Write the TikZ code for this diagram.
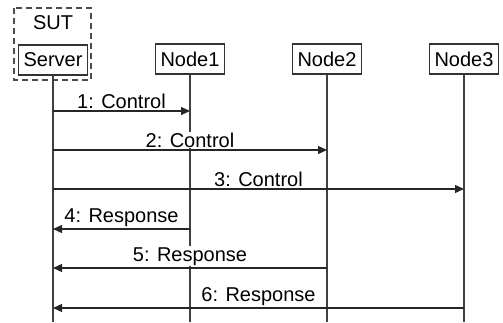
\documentclass[tikz,border=0pt]{standalone}
\usepackage{fontspec}
\setmainfont{Liberation Sans}
\usetikzlibrary{arrows.meta,positioning,calc}

\begin{document}
\begin{tikzpicture}[x=1pt, y=-1pt,
		every node/.style={font=\fontsize{20}{24}\selectfont},
		lifeBox/.style={
				draw=black!80, fill=white, line width=1.3pt,
				minimum width=69pt, minimum height=30pt, inner sep=1pt
			},
		lifeLine/.style={draw=black!75, line width=1.3pt},
		msgArrow/.style={draw=black!85, line width=1.3pt, -{Triangle[length=9pt,width=8pt]}},
		msgLabel/.style={fill=white, inner sep=1pt, anchor=south, yshift=1pt}
	]
	\useasboundingbox (0,0) rectangle (503,322);

	% system under test
	\draw[black!70, line width=1.3pt, dash pattern=on 6pt off 4pt] (14,8) rectangle (91,80);
	\node (sut) at (53,23) {SUT};

	% participants
	\node[lifeBox] (server) at (53,60) {Server};
	\node[lifeBox] (node1) at (190,59) {Node1};
	\node[lifeBox] (node2) at (327,59) {Node2};
	\node[lifeBox] (node3) at (464,59) {Node3};

	% lifelines
	\coordinate (serverEnd) at (server |- 0,322);
	\coordinate (node1End) at (node1 |- 0,322);
	\coordinate (node2End) at (node2 |- 0,322);
	\coordinate (node3End) at (node3 |- 0,322);
	\draw[lifeLine] (server.south) -- (serverEnd);
	\draw[lifeLine] (node1.south) -- (node1End);
	\draw[lifeLine] (node2.south) -- (node2End);
	\draw[lifeLine] (node3.south) -- (node3End);

	% messages
	\draw[msgArrow] (server |- 0,111) -- node[msgLabel] {1: Control} (node1 |- 0,111);
	\draw[msgArrow] (server |- 0,150) -- node[msgLabel] {2: Control} (node2 |- 0,150);
	\draw[msgArrow] (server |- 0,189) -- node[msgLabel] {3: Control} (node3 |- 0,189);
	\draw[msgArrow] (node1 |- 0,229) -- node[msgLabel] {4: Response} (server |- 0,229);
	\draw[msgArrow] (node2 |- 0,268) -- node[msgLabel] {5: Response} (server |- 0,268);
	\draw[msgArrow] (node3 |- 0,308) -- node[msgLabel] {6: Response} (server |- 0,308);
\end{tikzpicture}
\end{document}
